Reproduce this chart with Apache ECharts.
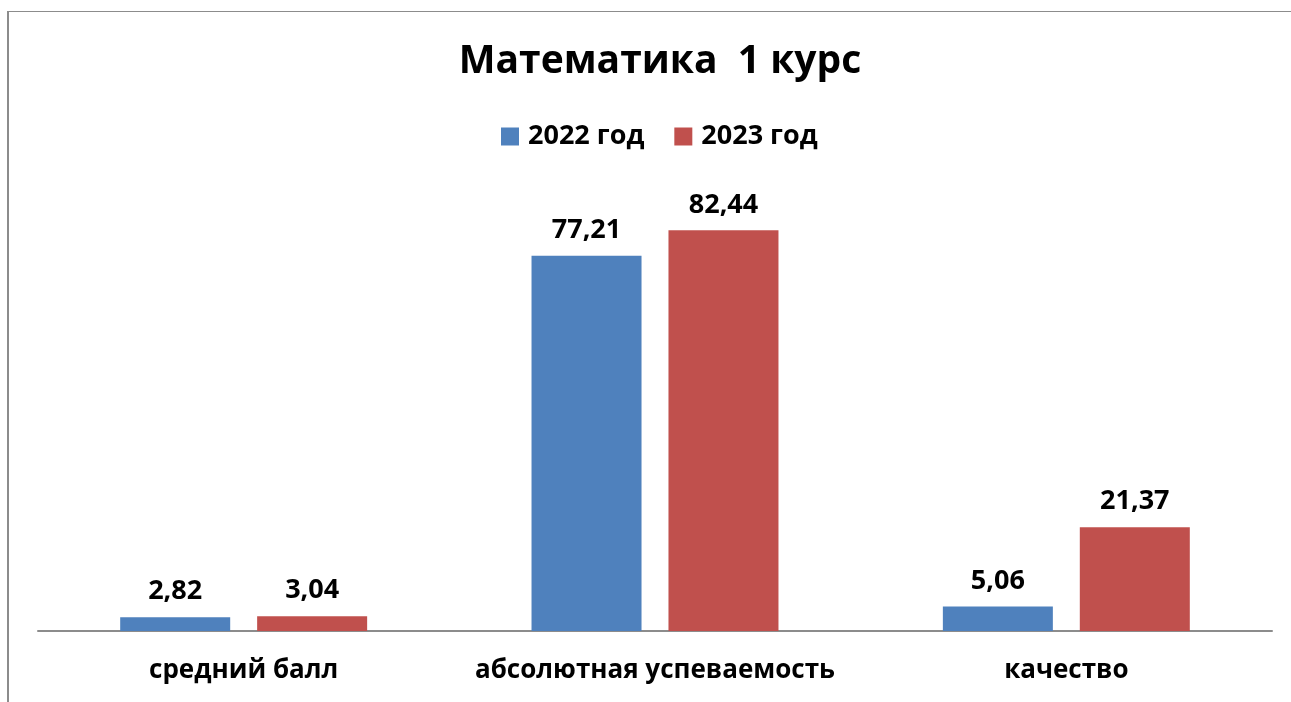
<!DOCTYPE html>
<html>
<head>
<meta charset="utf-8">
<script src="https://cdn.jsdelivr.net/npm/echarts@6/dist/echarts.min.js"></script>
<style>
  html, body { margin: 0; padding: 0; background: #fff; overflow: hidden; }
  #frame { position: absolute; left: 7px; top: 11px; width: 1400px; height: 800px;
           border-left: 2px solid #8c8c8c; border-top: 1px solid #8c8c8c; }
  #chart { position: absolute; left: 0; top: 0; width: 1291px; height: 702px; }
</style>
</head>
<body>
<div id="frame"></div>
<div id="chart"></div>
<script>
// данные диаграммы
const categories = ['средний балл', 'абсолютная успеваемость', 'качество'];
const seriesNames = ['2022 год', '2023 год'];
const values2022 = [2.82, 77.21, 5.06];
const values2023 = [3.04, 82.44, 21.37];
const colors = ['#4F81BD', '#C0504D'];

const font = '"Open Sans", "Noto Sans", sans-serif';
const fmt = p => p.value.toFixed(2).replace('.', ',');

const chart = echarts.init(document.getElementById('chart'));
chart.setOption({
  animation: false,
  title: {
    text: 'Математика  1 курс',
    left: 655, top: 37, textAlign: 'center',
    textStyle: { fontFamily: font, fontSize: 39, fontWeight: 'bold', color: '#000' }
  },
  legend: {
    data: seriesNames,
    left: 496, top: 118,
    itemWidth: 18, itemHeight: 18, itemGap: 30,
    icon: 'rect',
    textStyle: { fontFamily: font, fontSize: 27, fontWeight: 'bold', color: '#000', padding: [0, 0, 0, 4] }
  },
  grid: { left: 38, right: 19, top: 145, bottom: 71 },
  xAxis: {
    type: 'category',
    data: categories,
    axisLine: { lineStyle: { color: '#8c8c8c', width: 2 } },
    axisTick: { show: false },
    axisLabel: { interval: 0, margin: 27, fontFamily: font, fontSize: 26, fontWeight: 'bold', color: '#000' }
  },
  yAxis: { type: 'value', min: 0, max: 100, show: false, splitLine: { show: false } },
  series: [values2022, values2023].map((vals, i) => ({
    name: seriesNames[i],
    type: 'bar',
    data: vals,
    barWidth: 110,
    barGap: '24.5%',
    itemStyle: { color: colors[i] },
    label: {
      show: true, position: 'top', distance: 12,
      formatter: fmt,
      fontFamily: font, fontSize: 27, fontWeight: 'bold', color: '#000'
    }
  }))
});
</script>
</body>
</html>
